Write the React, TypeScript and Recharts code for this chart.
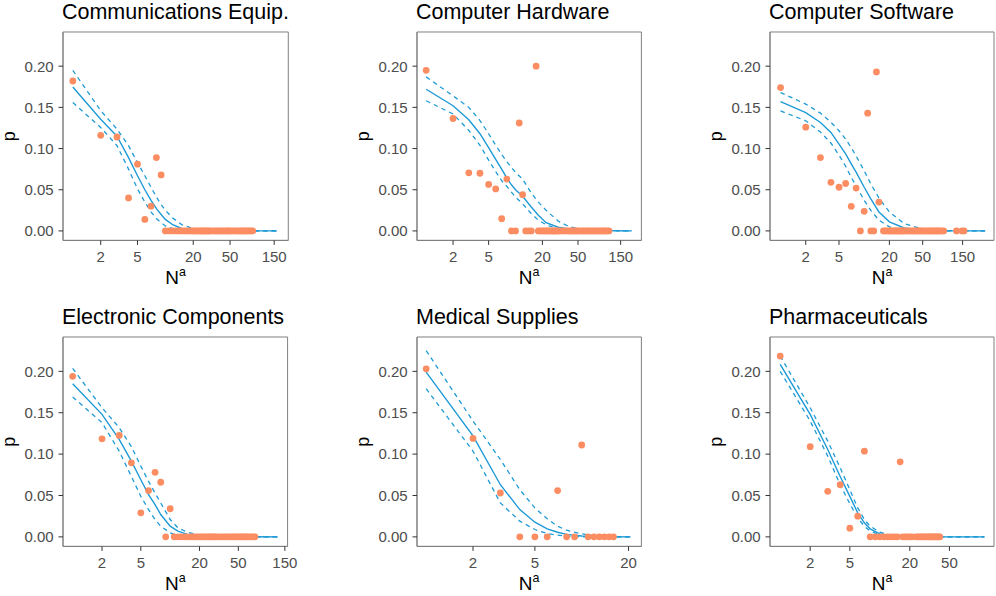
import React from 'react';
import { ComposedChart, Scatter, Line, XAxis, YAxis, Label, ReferenceArea } from 'recharts';

// ---------------- Data ----------------
// Communications Equip.
const commN = [1, 2, 3, 4, 5, 6, 7, 8, 9];
const commP = [0.182, 0.116, 0.114, 0.04, 0.081, 0.014, 0.03, 0.089, 0.068];
const commZeroN = [10, 11, 12, 13, 14, 15, 16, 17, 18, 19, 20, 21, 22, 23, 24, 25, 26, 27, 28, 29, 30, 32, 34, 36, 38, 40, 42, 44, 46, 48, 50, 53, 56, 59, 62, 65, 68, 71, 74, 77, 80, 84, 88];
const commGrid = [1, 2, 3, 4, 5, 6, 7, 8, 9, 10, 12, 15, 20, 30, 50, 160];
const commFit = [0.1747, 0.1356, 0.115, 0.089, 0.067, 0.05, 0.037, 0.027, 0.02, 0.014, 0.0075, 0.003, 0.001, 0.0002, 0, 0];
const commUpper = [0.195, 0.146, 0.1236, 0.1035, 0.083, 0.067, 0.053, 0.041, 0.032, 0.025, 0.0157, 0.0077, 0.0028, 0.0008, 0.0001, 0];
const commLower = [0.1558, 0.1256, 0.1035, 0.075, 0.051, 0.035, 0.023, 0.015, 0.01, 0.006, 0.0028, 0.0008, 0.0002, 0, 0, 0];

// Computer Hardware
const hardN = [1, 2, 3, 4, 5, 6, 7, 8, 9, 10, 11, 12, 13, 14, 15, 17];
const hardP = [0.195, 0.1365, 0.0705, 0.07, 0.0564, 0.051, 0.0149, 0.063, 0, 0, 0.131, 0.044, 0, 0, 0, 0.2];
const hardZeroN = [18, 19, 20, 21, 22, 23, 24, 25, 26, 27, 28, 29, 30, 32, 34, 36, 38, 40, 42, 44, 46, 48, 50, 53, 56, 59, 62, 65, 68, 72, 76, 80, 84, 88, 92, 96, 100, 105, 111];
const hardGrid = [1, 2, 3, 4, 5, 6, 7, 8, 9, 10, 12, 15, 18, 22, 30, 40, 60, 198];
const hardFit = [0.172, 0.152, 0.135, 0.118, 0.101, 0.087, 0.075, 0.064, 0.056, 0.05, 0.042, 0.029, 0.019, 0.01, 0.0045, 0.002, 0.0005, 0];
const hardUpper = [0.187, 0.164, 0.15, 0.134, 0.118, 0.104, 0.093, 0.084, 0.077, 0.071, 0.063, 0.046, 0.035, 0.025, 0.012, 0.005, 0.001, 0];
const hardLower = [0.158, 0.142, 0.122, 0.104, 0.086, 0.072, 0.061, 0.054, 0.047, 0.041, 0.033, 0.021, 0.013, 0.0075, 0.0026, 0.0008, 0.0001, 0];

// Computer Software
const softN = [1, 2, 3, 4, 5, 6, 7, 8, 9, 10, 11, 12, 13, 14, 15];
const softP = [0.174, 0.126, 0.089, 0.059, 0.053, 0.0576, 0.0298, 0.052, 0, 0.0238, 0.143, 0, 0, 0.193, 0.035];
const softZeroN = [17, 18, 19, 20, 21, 22, 23, 24, 25, 26, 27, 28, 29, 30, 32, 34, 36, 38, 40, 42, 44, 46, 48, 50, 53, 56, 59, 62, 65, 68, 71, 74, 77, 80, 84, 89, 127, 148, 156];
const softGrid = [1, 2, 3, 4, 5, 6, 7, 8, 10, 12, 15, 20, 30, 50, 80, 279];
const softFit = [0.157, 0.1437, 0.1316, 0.1196, 0.1055, 0.0934, 0.0813, 0.0713, 0.053, 0.039, 0.023, 0.011, 0.0036, 0.001, 0.0002, 0];
const softUpper = [0.168, 0.154, 0.143, 0.132, 0.1216, 0.1115, 0.101, 0.091, 0.073, 0.057, 0.04, 0.023, 0.009, 0.002, 0.0004, 0];
const softLower = [0.1457, 0.1337, 0.12, 0.1067, 0.092, 0.0785, 0.065, 0.055, 0.037, 0.025, 0.013, 0.005, 0.001, 0.0001, 0, 0];

// Electronic Components
const elecN = [1, 2, 3, 4, 5, 6, 7, 8, 9, 10];
const elecP = [0.194, 0.1185, 0.1226, 0.0895, 0.029, 0.056, 0.078, 0.066, 0, 0.034];
const elecZeroN = [11, 12, 13, 14, 15, 16, 17, 18, 19, 20, 21, 22, 23, 24, 25, 26, 27, 28, 29, 30, 32, 34, 36, 38, 40, 42, 44, 46, 48, 50, 52, 54, 56, 58, 60, 62, 65, 68, 71, 74];
const elecGrid = [1, 2, 3, 4, 5, 6, 7, 8, 10, 12, 15, 20, 30, 126];
const elecFit = [0.185, 0.148, 0.1177, 0.0915, 0.069, 0.051, 0.039, 0.027, 0.0129, 0.007, 0.003, 0.001, 0.0002, 0];
const elecUpper = [0.2036, 0.156, 0.132, 0.109, 0.0855, 0.067, 0.053, 0.041, 0.021, 0.011, 0.0056, 0.002, 0.0004, 0];
const elecLower = [0.169, 0.138, 0.1036, 0.073, 0.049, 0.033, 0.021, 0.0129, 0.0048, 0.0016, 0.0004, 0, 0, 0];

// Medical Supplies
const medN = [1, 2, 3, 4, 5, 6, 7, 8, 9, 10, 11, 12, 13, 14, 15, 16];
const medP = [0.203, 0.119, 0.053, 0, 0, 0, 0.056, 0, 0, 0.111, 0, 0, 0, 0, 0, 0];
const medZeroN: number[] = [];
const medGrid = [1, 2, 3, 4, 5, 6, 7, 8, 10, 12, 15, 20.6];
const medFit = [0.199, 0.122, 0.063, 0.033, 0.0177, 0.0097, 0.0056, 0.003, 0.001, 0.0004, 0.0001, 0];
const medUpper = [0.225, 0.14, 0.0935, 0.057, 0.035, 0.0218, 0.0129, 0.008, 0.0036, 0.0016, 0.0004, 0];
const medLower = [0.179, 0.1036, 0.041, 0.019, 0.0089, 0.004, 0.002, 0.0008, 0.0002, 0, 0, 0];

// Pharmaceuticals
const pharmN = [1, 2, 3, 4, 5, 6, 7, 16];
const pharmP = [0.2185, 0.109, 0.055, 0.063, 0.0105, 0.025, 0.1036, 0.0907];
const pharmZeroN = [8, 9, 10, 11, 12, 13, 14, 15, 17, 18, 19, 20, 21, 23, 24, 25, 26, 27, 28, 29, 30, 31, 32, 33, 34, 35, 36, 37, 38, 39, 40];
const pharmGrid = [1, 2, 3, 4, 5, 6, 7, 8, 10, 12, 15, 20, 112];
const pharmFit = [0.2085, 0.148, 0.1056, 0.073, 0.049, 0.029, 0.017, 0.0097, 0.0036, 0.0016, 0.0005, 0.0001, 0];
const pharmUpper = [0.2185, 0.156, 0.1157, 0.0835, 0.057, 0.035, 0.021, 0.0129, 0.0056, 0.0028, 0.001, 0.0002, 0];
const pharmLower = [0.2, 0.14, 0.0976, 0.063, 0.04, 0.023, 0.0129, 0.0069, 0.0028, 0.001, 0.0002, 0, 0];

// Tick labels
const yTicks = [0, 0.05, 0.1, 0.15, 0.2];
const xTicksWide = [2, 5, 20, 50, 150];
const xTicksMed = [2, 5, 20];
const xTicksPharm = [2, 5, 20, 50];

// ---------------- Layout / style ----------------
const FONT = '"Liberation Sans", Arial, Helvetica, sans-serif';
const DOT = '#FC8D62';
const BLUE = '#1E9AD6';
const BORDER = '#808080';
const Y_DOMAIN: [number, number] = [-0.0115, 0.2415];
const ML = 10;
const YW = 60;
const MT = 40;
const XH = 50;
const MR = 16;

type PanelSpec = {
  title: string;
  n: number[];
  p: number[];
  zeros: number[];
  grid: number[];
  fit: number[];
  upper: number[];
  lower: number[];
  ticks: number[];
  domain: [number, number];
  box: [number, number, number, number]; // left, right, top, bottom (page px)
};

const panels: PanelSpec[] = [
  { title: 'Communications Equip.', n: commN, p: commP, zeros: commZeroN, grid: commGrid, fit: commFit, upper: commUpper, lower: commLower, ticks: xTicksWide, domain: [0.783, 213], box: [62.7, 288, 32.3, 240.7] },
  { title: 'Computer Hardware', n: hardN, p: hardP, zeros: hardZeroN, grid: hardGrid, fit: hardFit, upper: hardUpper, lower: hardLower, ticks: xTicksWide, domain: [0.79, 256], box: [417.3, 641.7, 32.3, 240.7] },
  { title: 'Computer Software', n: softN, p: softP, zeros: softZeroN, grid: softGrid, fit: softFit, upper: softUpper, lower: softLower, ticks: xTicksWide, domain: [0.748, 356], box: [770, 994, 32.3, 240.7] },
  { title: 'Electronic Components', n: elecN, p: elecP, zeros: elecZeroN, grid: elecGrid, fit: elecFit, upper: elecUpper, lower: elecLower, ticks: xTicksWide, domain: [0.796, 160], box: [62.7, 287.3, 337.3, 546.7] },
  { title: 'Medical Supplies', n: medN, p: medP, zeros: medZeroN, grid: medGrid, fit: medFit, upper: medUpper, lower: medLower, ticks: xTicksMed, domain: [0.873, 24.2], box: [417.3, 641.7, 337.3, 546.7] },
  { title: 'Pharmaceuticals', n: pharmN, p: pharmP, zeros: pharmZeroN, grid: pharmGrid, fit: pharmFit, upper: pharmUpper, lower: pharmLower, ticks: xTicksPharm, domain: [0.79, 140], box: [770, 994, 337.3, 546.7] },
];

const Dot = (props: any) => {
  if (props.cx == null || props.cy == null) return null;
  return <circle cx={props.cx} cy={props.cy} r={3.4} fill={DOT} />;
};

function Panel({ spec }: { spec: PanelSpec }) {
  const [l, r, t, b] = spec.box;
  const pw = r - l;
  const ph = b - t;
  const cw = pw + ML + YW + MR;
  const ch = ph + MT + XH + 10;
  const points = [
    ...spec.n.map((n, i) => ({ n, p: spec.p[i] })),
    ...spec.zeros.map((n) => ({ n, p: 0 })),
  ];
  const curve = spec.grid.map((n, i) => ({ n, fit: spec.fit[i], upper: spec.upper[i], lower: spec.lower[i] }));
  const px = ML + YW;
  const yLabX = px - 47.5;
  const yLabY = MT + ph / 2;

  return (
    <div style={{ position: 'absolute', left: l - px, top: t - MT }}>
      <ComposedChart width={cw} height={ch} margin={{ top: MT, right: MR, bottom: 10, left: ML }}>
        <XAxis
          xAxisId="b"
          dataKey="n"
          type="number"
          scale="log"
          domain={spec.domain}
          allowDataOverflow
          ticks={spec.ticks}
          height={XH}
          tickSize={4.5}
          tickMargin={6.5}
          axisLine={{ stroke: BORDER, strokeWidth: 1 }}
          tickLine={{ stroke: '#333333', strokeWidth: 1 }}
          tick={{ fill: '#4d4d4d', fontSize: 15, fontFamily: FONT }}
          interval={0}
        >
          <Label
            content={() => (
              <text x={px + pw / 2} y={MT + ph + 44} textAnchor="middle" fontSize={19} fontFamily={FONT} fill="#000">
                N<tspan dy={-8} fontSize={12.5}>a</tspan>
              </text>
            )}
          />
        </XAxis>
        <YAxis
          yAxisId="l"
          type="number"
          domain={Y_DOMAIN}
          allowDataOverflow
          ticks={yTicks}
          tickFormatter={(v: number) => v.toFixed(2)}
          width={YW}
          tickSize={4.5}
          tickMargin={4.9}
          axisLine={{ stroke: BORDER, strokeWidth: 1 }}
          tickLine={{ stroke: '#333333', strokeWidth: 1 }}
          tick={{ fill: '#4d4d4d', fontSize: 15, fontFamily: FONT }}
          interval={0}
        >
          <Label
            content={() => (
              <g>
                <text x={px - 1} y={MT - 12.8} fontSize={21.5} fontFamily={FONT} fill="#000">
                  {spec.title}
                </text>
                <text
                  x={yLabX}
                  y={yLabY}
                  textAnchor="middle"
                  fontSize={18}
                  fontFamily={FONT}
                  fill="#000"
                  transform={`rotate(-90, ${yLabX}, ${yLabY})`}
                >
                  p
                </text>
              </g>
            )}
          />
        </YAxis>
        <ReferenceArea
          xAxisId="b"
          yAxisId="l"
          x1={spec.domain[0]}
          x2={spec.domain[1]}
          y1={Y_DOMAIN[0]}
          y2={Y_DOMAIN[1]}
          fill="none"
          fillOpacity={0}
          stroke={BORDER}
          strokeWidth={1}
          ifOverflow="visible"
        />
        <Scatter
          data={points}
          dataKey="p"
          xAxisId="b"
          yAxisId="l"
          shape={Dot}
          isAnimationActive={false}
        />
        <Line data={curve} dataKey="upper" xAxisId="b" yAxisId="l" type="linear" stroke={BLUE} strokeWidth={1.3} strokeDasharray="4.5 4" dot={false} activeDot={false} isAnimationActive={false} />
        <Line data={curve} dataKey="lower" xAxisId="b" yAxisId="l" type="linear" stroke={BLUE} strokeWidth={1.3} strokeDasharray="4.5 4" dot={false} activeDot={false} isAnimationActive={false} />
        <Line data={curve} dataKey="fit" xAxisId="b" yAxisId="l" type="linear" stroke={BLUE} strokeWidth={1.4} dot={false} activeDot={false} isAnimationActive={false} />
      </ComposedChart>
    </div>
  );
}

export default function App() {
  return (
    <div style={{ position: 'absolute', left: 0, top: 0, width: 996, height: 596, background: '#ffffff', overflow: 'hidden', fontFamily: FONT }}>
      {panels.map((s) => (
        <Panel key={s.title} spec={s} />
      ))}
    </div>
  );
}
